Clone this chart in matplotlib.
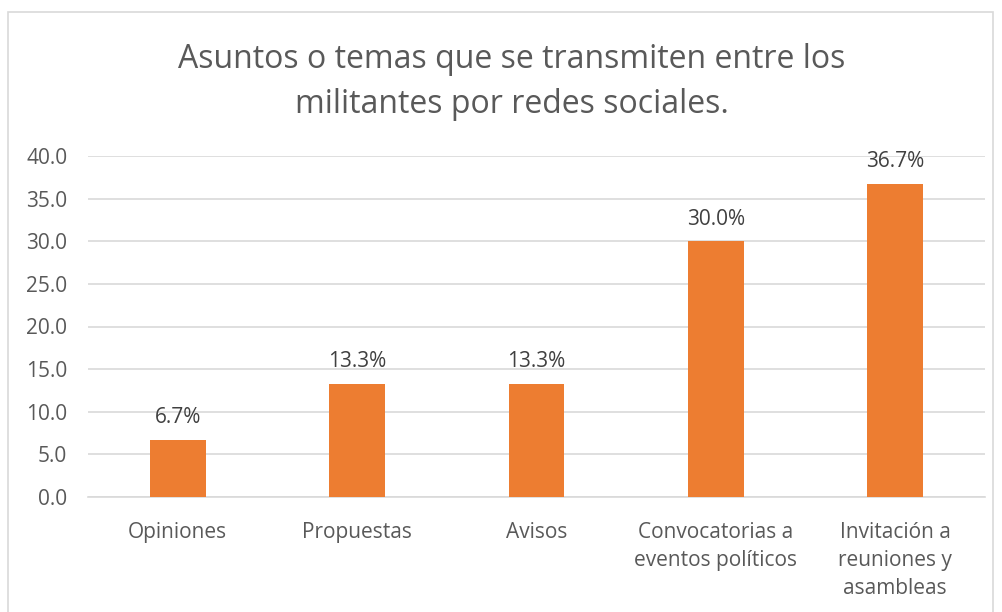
import matplotlib.pyplot as plt
from matplotlib.patches import Rectangle

# --------------------------------------------------------------
# Data
# --------------------------------------------------------------

categories = ["Opiniones", "Propuestas", "Avisos",
              "Convocatorias a\neventos políticos",
              "Invitación a\nreuniones y\nasambleas"]
values = [6.7, 13.3, 13.3, 30.0, 36.7]
yticks = [0, 5, 10, 15, 20, 25, 30, 35, 40]

# --------------------------------------------------------------
# Plot
# --------------------------------------------------------------

plt.rcParams['font.family'] = ['Open Sans', 'DejaVu Sans']
text_color = "#595959"

fig = plt.figure(figsize=(10.02, 6.12), dpi=100)
ax = fig.add_axes([88 / 1002, 1 - 497 / 612, (985 - 88) / 1002, (497 - 156) / 612])

x = range(len(categories))
bars = ax.bar(x, values, width=0.31, color="#ED7D31", zorder=3)

for rect, v in zip(bars, values):
    ax.annotate(f"{v:.1f}%", (rect.get_x() + rect.get_width() / 2, v),
                xytext=(0, 16), textcoords="offset points",
                ha="center", va="center", fontsize=15, color="#404040")

ax.set_xlim(-0.5, len(categories) - 0.5)
ax.set_ylim(0, 40)
ax.set_yticks(yticks)
ax.set_yticklabels([f"{t:.1f}" for t in yticks])
ax.set_xticks(list(x))
ax.set_xticklabels(categories, linespacing=1.45)
ax.tick_params(axis="both", length=0, labelsize=15, labelcolor=text_color)
ax.tick_params(axis="y", pad=15)
ax.tick_params(axis="x", pad=18)

ax.grid(axis="y", color="#D9D9D9", linewidth=1.2, zorder=0)
for s in ["top", "right", "left"]:
    ax.spines[s].set_visible(False)
ax.spines["bottom"].set_color("#D9D9D9")
ax.spines["bottom"].set_linewidth(1.2)

fig.text(0.511, 1 - 82 / 612, "Asuntos o temas que se transmiten entre los\nmilitantes por redes sociales.",
         ha="center", va="center", fontsize=23, color=text_color, linespacing=1.45)

fig.patches.append(Rectangle((8 / 1002, -0.05), (993 - 8) / 1002, 1.05 - 12 / 612,
                             transform=fig.transFigure, fill=False,
                             edgecolor="#D9D9D9", linewidth=1.2))

fig.savefig("out.png", dpi=100, facecolor="white")
